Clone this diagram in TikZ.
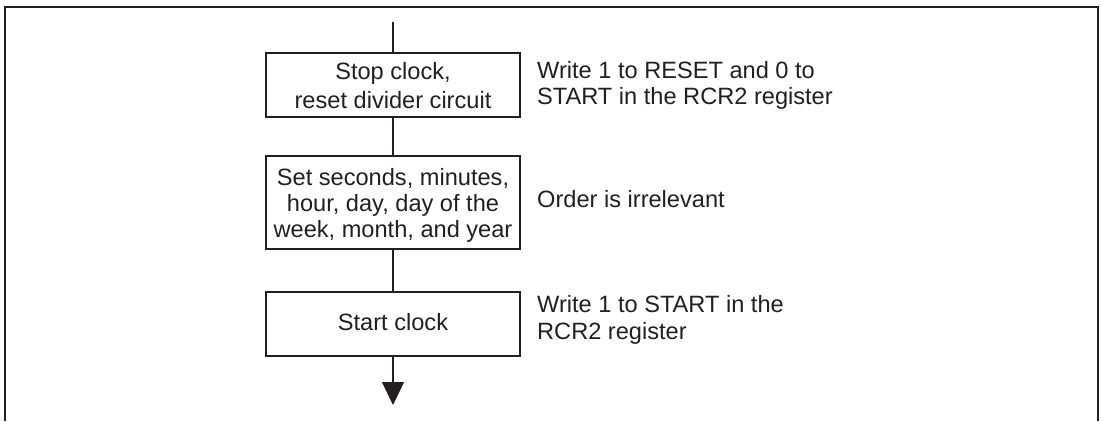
\documentclass[tikz,border=0pt]{standalone}
\usepackage{fontspec}
\setmainfont{Liberation Sans}
\usetikzlibrary{arrows.meta}
\definecolor{ink}{HTML}{231F20}
\begin{document}
\begin{tikzpicture}[x=1pt,y=-1pt,
  stepbox/.style={draw=ink,line width=2.2pt,minimum width=254pt,inner sep=0pt,align=center,text=ink,text depth=0pt},
  note/.style={inner sep=0pt,align=left,text=ink},
  conn/.style={draw=ink,line width=1.2pt}]
\useasboundingbox (0,0) rectangle (1102,421);
\draw[ink,line width=2pt] (5,421) -- (5,7) -- (1098,7) -- (1098,421);
\node[stepbox,minimum height=64pt,font=\fontsize{23.6}{29}\selectfont] (b1) at (393,85) {Stop clock,\\reset divider circuit};
\node[stepbox,minimum height=93pt,font=\fontsize{23.6}{26}\selectfont] (b2) at (393,202.5) {Set seconds, minutes,\\hour, day, day of the\\week, month, and year};
\node[stepbox,minimum height=64pt,text height=12pt,font=\fontsize{23.6}{26}\selectfont] (b3) at (393,324) {Start clock};
\coordinate (top) at (393,22);
\coordinate (end) at (393,405);
\node[note,anchor=north west,font=\fontsize{23.6}{26}\selectfont] (n1) at (537,61) {Write 1 to RESET and 0 to\\START in the RCR2 register};
\node[note,anchor=base west,font=\fontsize{23.6}{26}\selectfont] (n2) at (537,207) {Order is irrelevant};
\node[note,anchor=north west,font=\fontsize{23.6}{27}\selectfont] (n3) at (537,295) {Write 1 to START in the\\RCR2 register};
\draw[conn] (top) -- (b1.north);
\draw[conn] (b1.south) -- (b2.north);
\draw[conn] (b2.south) -- (b3.north);
\draw[conn,-{Triangle[width=22pt,length=23pt]}] (b3.south) -- (end);
\end{tikzpicture}
\end{document}
